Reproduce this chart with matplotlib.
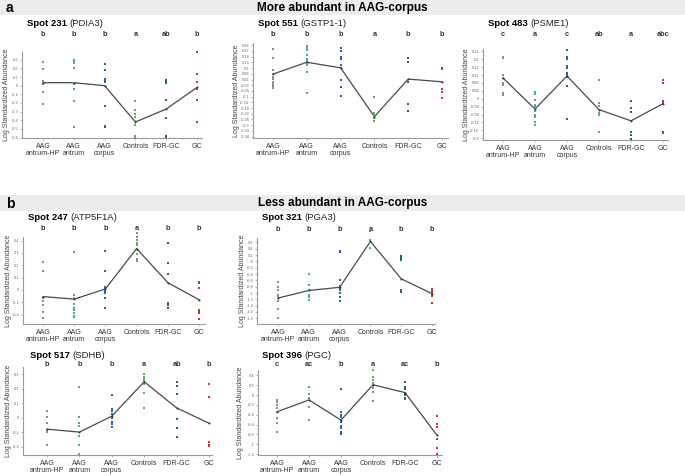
import matplotlib
matplotlib.use("Agg")
import matplotlib.pyplot as plt
from matplotlib.transforms import blended_transform_factory
from matplotlib.patches import Rectangle

plt.rcParams['font.family'] = ['Liberation Sans', 'DejaVu Sans']

categories = ["AAG\nantrum-HP", "AAG\nantrum", "AAG\ncorpus", "Controls", "FDR-GC", "GC"]
colors = ["#8c8c8c", "#4ea6a6", "#2b5fb3", "#5cad5c", "#2a6a4c", "#c83232"]

# ---- Spot 231 (PDIA3)
s231_points = [
    [0.27, 0.19, 0.055, 0.035, 0.015, -0.07, -0.21],
    [0.30, 0.28, 0.26, 0.20, 0.035, 0.02, -0.035, -0.18, -0.48],
    [0.25, 0.18, 0.075, 0.055, 0.04, -0.23, -0.47, -0.48],
    [-0.18, -0.28, -0.33, -0.36, -0.41, -0.45, -0.58, -0.60],
    [0.065, 0.045, 0.03, -0.17, -0.37, -0.58, -0.59],
    [0.385, 0.135, 0.045, -0.04, -0.17, -0.42],
]
s231_mean = [0.035, 0.035, 0.0, -0.42, -0.27, -0.02]
s231_letters = ["b", "b", "b", "a", "ab", "b"]
s231_ticks = [0.3, 0.2, 0.1, 0, -0.1, -0.2, -0.3, -0.4, -0.5, -0.6]

# ---- Spot 551 (GSTP1-1)
s551_points = [
    [0.232, 0.174, 0.086, 0.058, 0.039, 0.023, 0.004, -0.012, -0.026, -0.042],
    [0.255, 0.241, 0.225, 0.195, 0.167, 0.151, 0.137, 0.125, 0.074, -0.073],
    [0.244, 0.22, 0.179, 0.167, 0.12, 0.102, 0.02, -0.03, -0.096],
    [-0.105, -0.217, -0.228, -0.24, -0.25, -0.268],
    [0.172, 0.144, 0.004, -0.152, -0.198],
    [0.102, 0.097, -0.045, -0.07, -0.107],
]
s551_mean = [0.058, 0.141, 0.102, -0.24, 0.023, 0.004]
s551_letters = ["b", "b", "b", "a", "b", "b"]
s551_ticks = [0.26, 0.22, 0.18, 0.14, 0.1, 0.06, 0.02, -0.02, -0.06, -0.1, -0.14,
              -0.18, -0.22, -0.26, -0.3, -0.34, -0.38]

# ---- Spot 483 (PSME1)
s483_points = [
    [0.214, 0.204, 0.119, 0.107, 0.078, 0.068, 0.031, 0.018],
    [0.034, 0.022, -0.004, -0.031, -0.038, -0.047, -0.064, -0.081, -0.093, -0.12, -0.134],
    [0.249, 0.214, 0.201, 0.167, 0.158, 0.129, 0.119, 0.11, 0.064, -0.103],
    [0.095, -0.021, -0.038, -0.072, -0.081, -0.166],
    [-0.009, -0.047, -0.067, -0.171, -0.182, -0.205],
    [0.093, 0.081, -0.013, -0.021, -0.169, -0.175],
]
s483_mean = [0.105, -0.052, 0.115, -0.055, -0.112, -0.025]
s483_letters = ["c", "a", "c", "ab", "a", "abc"]
s483_ticks = [0.24, 0.2, 0.16, 0.12, 0.08, 0.04, 0, -0.04, -0.08, -0.12, -0.16, -0.2]

# ---- Spot 247 (ATP5F1A)
s247_points = [
    [0.228, 0.156, -0.054, -0.062, -0.094, -0.12, -0.177, -0.228],
    [0.312, -0.04, -0.067, -0.116, -0.148, -0.167, -0.188, -0.21, -0.22],
    [0.315, 0.15, 0.027, 0.013, 0.0, -0.013, -0.027, -0.067, -0.15],
    [0.465, 0.43, 0.403, 0.382, 0.363, 0.328, 0.29, 0.255, 0.247, 0.234],
    [0.382, 0.215, 0.129, -0.108, -0.12, -0.15],
    [0.067, 0.059, 0.019, -0.167, -0.18, -0.188, -0.237],
]
s247_mean = [-0.054, -0.075, 0.008, 0.336, 0.059, -0.08]
s247_letters = ["b", "b", "b", "a", "b", "b"]
s247_ticks = [0.4, 0.3, 0.2, 0.1, 0, -0.1, -0.2]

# ---- Spot 321 (PGA3)
s321_points = [
    [-0.66, -0.81, -0.89, -1.05, -1.10, -1.26, -1.50, -1.79],
    [-0.39, -0.74, -0.89, -1.05, -1.13, -1.21],
    [0.34, 0.31, -0.58, -0.79, -0.86, -0.92, -1.00, -1.14, -1.26],
    [0.95, 0.68, 0.65, 0.61, 0.42],
    [0.16, 0.11, 0.03, -0.92, -0.98],
    [-0.87, -0.92, -0.96, -1.02, -1.08, -1.32],
]
s321_mean = [-1.16, -0.92, -0.82, 0.63, -0.55, -1.02]
s321_letters = ["b", "b", "b", "a", "b", "b"]
s321_ticks = [0.6, 0.4, 0.2, 0, -0.2, -0.4, -0.6, -0.8, -1, -1.2, -1.4, -1.6, -1.8]

# ---- Spot 517 (SDHB)
s517_points = [
    [0.045, 0.007, -0.038, -0.083, -0.095, -0.19],
    [0.21, 0.002, -0.034, -0.054, -0.128, -0.19, -0.252],
    [0.158, 0.063, 0.045, 0.023, -0.005, -0.027, -0.045, -0.061],
    [0.30, 0.28, 0.266, 0.255, 0.232, 0.171, 0.07],
    [0.248, 0.221, 0.162, -0.009, -0.072, -0.135],
    [0.232, 0.142, -0.167, -0.185, -0.196],
]
s517_mean = [-0.079, -0.099, 0.011, 0.248, 0.068, -0.038]
s517_letters = ["b", "b", "b", "a", "ab", "b"]
s517_ticks = [0.3, 0.2, 0.1, 0, -0.1, -0.2]

# ---- Spot 396 (PGC)
s396_points = [
    [-0.10, -0.14, -0.21, -0.26, -0.34, -0.47, -0.57, -0.75],
    [0.16, 0.02, -0.05, -0.10, -0.24, -0.51],
    [0.13, -0.34, -0.40, -0.45, -0.51, -0.55, -0.62, -0.68, -0.75, -0.80],
    [0.50, 0.36, 0.31, 0.24, 0.14, 0.06, -0.12],
    [0.27, 0.16, 0.12, 0.05, 0.0, -0.06, -0.08],
    [-0.42, -0.58, -0.65, -0.89, -1.07, -1.20],
]
s396_mean = [-0.34, -0.10, -0.51, 0.21, 0.05, -0.82]
s396_letters = ["c", "ac", "b", "a", "ac", "b"]
s396_ticks = [0.4, 0.2, 0, -0.2, -0.4, -0.6, -0.8, -1, -1.2]

W, H = 685, 476
fig = plt.figure(figsize=(W / 100, H / 100), dpi=100)
fig.patch.set_facecolor("white")


def fy(y):
    return 1 - y / H


def fx(x):
    return x / W


# header bands
for (y0, y1, letter, text) in [(0, 15, "a", "More abundant in AAG-corpus"),
                               (195, 211, "b", "Less abundant in AAG-corpus")]:
    fig.patches.append(Rectangle((0, fy(y1)), 1, (y1 - y0) / H, transform=fig.transFigure,
                                 facecolor="#ececec", edgecolor="none", zorder=0))
    fig.text(fx(6), fy((y0 + y1) / 2 + 0.5), letter, fontsize=10, fontweight="bold",
             va="center", ha="left")
    fig.text(0.5, fy((y0 + y1) / 2), text, fontsize=8.5, fontweight="bold",
             va="center", ha="center")

renderer = fig.canvas.get_renderer()

panels = [
    ("Spot 231", "(PDIA3)", s231_points, s231_mean, s231_letters, s231_ticks, (-0.605, 0.39),
     (22, 52, 202, 138), (43, 197), 24, 34, 7, 27),
    ("Spot 551", "(GSTP1-1)", s551_points, s551_mean, s551_letters, s551_ticks, (-0.39, 0.276),
     (253, 43, 448, 138), (273, 442), 24, 34, 237, 258),
    ("Spot 483", "(PSME1)", s483_points, s483_mean, s483_letters, s483_ticks, (-0.209, 0.252),
     (483, 49, 668, 140), (503, 663), 24, 34, 467, 488),
    ("Spot 247", "(ATP5F1A)", s247_points, s247_mean, s247_letters, s247_ticks, (-0.277, 0.43),
     (23, 237, 205, 324), (43, 199), 218, 228, 9, 28),
    ("Spot 321", "(PGA3)", s321_points, s321_mean, s321_letters, s321_ticks, (-1.98, 0.74),
     (257, 238, 435, 324), (278, 432), 218, 229, 242, 262),
    ("Spot 517", "(SDHB)", s517_points, s517_mean, s517_letters, s517_ticks, (-0.257, 0.35),
     (23, 367, 212, 455), (47, 209), 355, 365, 9, 30),
    ("Spot 396", "(PGC)", s396_points, s396_mean, s396_letters, s396_ticks, (-1.22, 0.51),
     (258, 370, 442, 455), (277, 437), 355, 365, 241, 262),
]

for (spot, gene, pts, mean, letters, ticks, ylim, box, cats, ty, ly, ylx, tx) in panels:
    L, T, R, B = box
    ax = fig.add_axes([fx(L), fy(B), (R - L) / W, (B - T) / H])
    s = (cats[1] - cats[0]) / 5
    ax.set_xlim(-(cats[0] - L) / s, 5 + (R - cats[1]) / s)
    ax.set_ylim(*ylim)
    for i, vals in enumerate(pts):
        ax.scatter([i] * len(vals), vals, s=1.6, marker="s", color=colors[i],
                   linewidths=0, zorder=3, clip_on=False)
    ax.plot(range(6), mean, color="#4a4a4a", lw=0.9, zorder=2)
    ax.scatter(range(6), mean, s=2.0, color="#333333", zorder=4, linewidths=0)
    for sp in ("top", "right"):
        ax.spines[sp].set_visible(False)
    for sp in ("left", "bottom"):
        ax.spines[sp].set_color("#9a9a9a")
        ax.spines[sp].set_linewidth(0.8)
    ax.set_yticks(ticks)
    ax.set_yticklabels([("%g" % t) for t in ticks])
    ax.tick_params(axis="y", labelsize=2.8, length=1.5, width=0.5, colors="#9a9a9a",
                   labelcolor="#666666", pad=1.2)
    ax.set_xticks(range(6))
    ax.set_xticklabels(categories, fontsize=5, color="#333333", linespacing=1.0)
    ax.tick_params(axis="x", length=1.5, width=0.5, colors="#9a9a9a", labelcolor="#333333",
                   pad=2.2)
    ax.set_facecolor("none")
    tr = blended_transform_factory(ax.transData, fig.transFigure)
    for i, lt in enumerate(letters):
        ax.text(i, fy(ly), lt, transform=tr, ha="center", va="center", fontsize=5.3,
                fontweight="bold", color="#333333")
    fig.text(fx(ylx), fy((T + B) / 2), "Log Standardized Abundance", rotation=90,
             ha="center", va="center", fontsize=5, color="#444444")
    t1 = fig.text(fx(tx), fy(ty), spot, fontsize=6.8, fontweight="bold", ha="left",
                  va="center")
    w = t1.get_window_extent(renderer=renderer).width
    fig.text(fx(tx) + (w + 2.5) / W, fy(ty), gene, fontsize=6.8, ha="left", va="center",
             color="#222222")

fig.savefig("out.png", dpi=100, facecolor="white")
